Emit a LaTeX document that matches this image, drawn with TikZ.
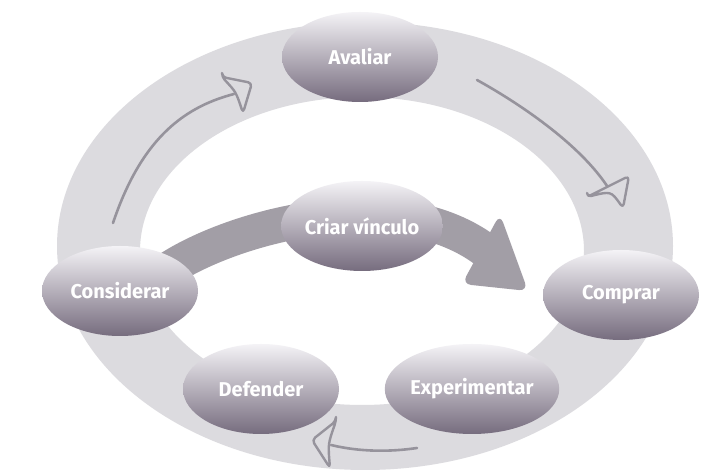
\documentclass[tikz,border=0pt]{standalone}
\usepackage{fontspec}
\newfontfamily\stagefont{Fira Sans}
\usetikzlibrary{shapes.geometric}
\definecolor{ringcol}{RGB}{220,219,223}
\definecolor{arrowcol}{RGB}{150,147,156}
\definecolor{bandcol}{RGB}{162,158,166}
\definecolor{stagetop}{RGB}{244,243,246}
\definecolor{stagemid}{RGB}{176,169,181}
\definecolor{stagebot}{RGB}{118,108,126}
\tikzset{
 stage/.style={ellipse, minimum width=156pt, minimum height=90pt, inner sep=0pt,
   top color=stagetop, middle color=stagemid, bottom color=stagebot,
   text=white, font=\stagefont\bfseries\fontsize{20}{24}\selectfont},
 ringarrow/.style={draw=arrowcol, line width=2.6pt, line cap=round},
 ringhead/.style={draw=arrowcol, fill=ringcol, line width=2.4pt, rounded corners=4pt, line join=round},
 band/.style={draw=bandcol, line width=35pt},
 bandhead/.style={fill=bandcol, rounded corners=9pt},
}
\begin{document}
\begin{tikzpicture}[x=1pt,y=1pt]
\useasboundingbox (0,0) rectangle (701,473);
\fill[white] (0,0) rectangle (701,473);
% ring
\fill[ringcol, even odd rule] (365,227) ellipse [x radius=308pt, y radius=224pt]
  (362,222) ellipse [x radius=222pt, y radius=154pt];
% ring arrows
\coordinate (a1s) at (113,250); \coordinate (a1e) at (234,379);
\draw[ringarrow] (a1s) .. controls (140,330) and (180,365) .. (a1e);
\draw[ringhead] (222,396) -- (252,390) -- (243,360) .. controls (236,381) .. cycle;
\coordinate (a2s) at (477,393); \coordinate (a2e) at (609,284);
\draw[ringarrow] (a2s) .. controls (515,372) and (580,330) .. (a2e);
\draw[ringhead] (587,276) -- (629,297) -- (623,265) .. controls (611,282) .. cycle;
\coordinate (a3s) at (417,25); \coordinate (a3e) at (331,28);
\draw[ringarrow] (a3s) .. controls (390,21) and (360,21) .. (a3e);
\draw[ringhead] (336,52) -- (312,33) -- (330,5) .. controls (328,29) .. cycle;
% central band
\coordinate (bs) at (160,198); \coordinate (be) at (485,223);
\draw[band] (bs) .. controls (220,243) and (390,293) .. (be);
\fill[bandhead] (500,259) -- (528,182) -- (462,189) -- cycle;
% stages
\node[stage] (avaliar) at (360,416) {Avaliar};
\node[stage] (criar) at (362,247) {Criar vínculo};
\node[stage] (considerar) at (120,182) {Considerar};
\node[stage] (comprar) at (621,178) {Comprar};
\node[stage] (defender) at (261,84) {Defender};
\node[stage] (experimentar) at (472,84) {Experimentar};
\end{tikzpicture}
\end{document}
